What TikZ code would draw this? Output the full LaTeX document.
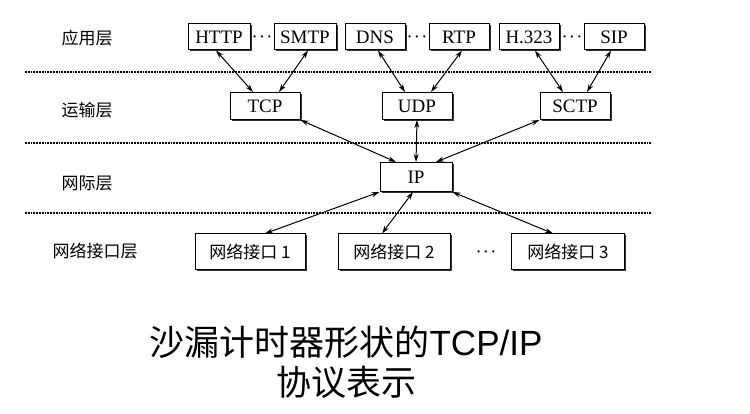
\documentclass[tikz,border=0pt]{standalone}
\usepackage{fontspec}
\setmainfont{Liberation Serif}
\newfontfamily\cjk{Noto Sans CJK SC}
\newfontfamily\titlef{Liberation Sans}
\usetikzlibrary{arrows.meta,shadows}
\begin{document}
\begin{tikzpicture}[x=1pt,y=-1pt,
  pbox/.style={draw,line width=1pt,fill=white,inner sep=0pt,font=\fontsize{19}{19}\selectfont,
    drop shadow={shadow xshift=1.5pt,shadow yshift=-1.5pt,fill=black,opacity=0.8}},
  lay/.style={font=\cjk\fontsize{17}{17}\selectfont},
  sep/.style={densely dotted,line width=1.8pt},
  dd/.style={font=\fontsize{15}{15}\selectfont\boldmath},
  con/.style={<->,>={Stealth[length=8pt,width=5pt]},line width=1pt}]
\useasboundingbox (0,0) rectangle (750,414);
\node[lay] (l1) at (87,38) {应用层};
\node[lay] (l2) at (87,110) {运输层};
\node[lay] (l3) at (87,183) {网际层};
\node[lay] (l4) at (95,251) {网络接口层};
\coordinate (s1a) at (25,72); \coordinate (s1b) at (652,72);
\coordinate (s2a) at (25,143); \coordinate (s2b) at (652,143);
\coordinate (s3a) at (25,213); \coordinate (s3b) at (652,213);
\draw[sep] (s1a)--(s1b); \draw[sep] (s2a)--(s2b); \draw[sep] (s3a)--(s3b);
\node[pbox,minimum width=62pt,minimum height=26pt] (http) at (219,37) {HTTP};
\node[pbox,minimum width=62pt,minimum height=26pt] (smtp) at (305,37) {SMTP};
\node[pbox,minimum width=60pt,minimum height=26pt] (dns) at (375,37) {DNS};
\node[pbox,minimum width=60pt,minimum height=26pt] (rtp) at (459,37) {RTP};
\node[pbox,minimum width=60pt,minimum height=26pt] (h323) at (529,37) {H.323};
\node[pbox,minimum width=60pt,minimum height=26pt] (sip) at (614,37) {SIP};
\node[dd] (d1) at (262,37) {$\cdots$};
\node[dd] (d2) at (417,37) {$\cdots$};
\node[dd] (d3) at (572,37) {$\cdots$};
\node[pbox,minimum width=70pt,minimum height=27pt] (tcp) at (265,106) {TCP};
\node[pbox,minimum width=70pt,minimum height=27pt] (udp) at (417,106) {UDP};
\node[pbox,minimum width=70pt,minimum height=27pt] (sctp) at (575,106) {SCTP};
\node[pbox,minimum width=72pt,minimum height=29pt] (ip) at (416,177) {IP};
\node[pbox,font=\cjk\fontsize{17}{17}\selectfont,minimum width=110pt,minimum height=36pt] (n1) at (250,252) {网络接口 1};
\node[pbox,font=\cjk\fontsize{17}{17}\selectfont,minimum width=112pt,minimum height=36pt] (n2) at (394,252) {网络接口 2};
\node[pbox,font=\cjk\fontsize{17}{17}\selectfont,minimum width=113pt,minimum height=36pt] (n3) at (568,252) {网络接口 3};
\node[dd] (d4) at (486,252) {$\cdots$};
\draw[con] ([xshift=-3pt]http.south) -- ([xshift=-12pt]tcp.north);
\draw[con] ([xshift=3pt]smtp.south) -- ([xshift=14pt]tcp.north);
\draw[con] ([xshift=3pt]dns.south) -- ([xshift=-12pt]udp.north);
\draw[con] ([xshift=3pt]rtp.south) -- ([xshift=14pt]udp.north);
\draw[con] ([xshift=6pt]h323.south) -- ([xshift=-12pt]sctp.north);
\draw[con] ([xshift=-3pt]sip.south) -- ([xshift=12pt]sctp.north);
\draw[con] (tcp.south east) -- ([xshift=-20pt]ip.north);
\draw[con] (udp.south) -- (ip.north);
\draw[con] (sctp.south west) -- ([xshift=20pt]ip.north);
\draw[con] (ip.south west) -- ([xshift=15pt]n1.north);
\draw[con] ([xshift=-3pt]ip.south) -- ([xshift=-12pt]n2.north);
\draw[con] (ip.south east) -- ([xshift=-15pt]n3.north);
\node[font=\cjk\fontsize{35}{35}\selectfont] (t1) at (346,342) {沙漏计时器形状的\titlef TCP/IP};
\node[font=\cjk\fontsize{35}{35}\selectfont] (t2) at (346,382) {协议表示};
\end{tikzpicture}
\end{document}
